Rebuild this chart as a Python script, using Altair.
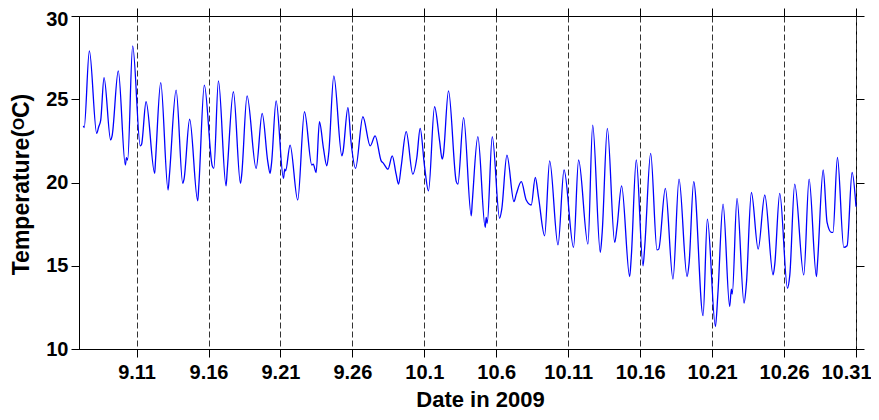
import altair as alt
import pandas as pd

# Day number counted from Aug 31, 2009 (so 11 = Sep 11, 31 = Oct 1, 61 = Oct 31)
days = [
    7.30, 7.36, 7.72, 8.23, 8.37, 8.51, 8.74, 9.20, 9.30, 9.73,
    10.22, 10.30, 10.38, 10.73, 11.26, 11.35, 11.66, 12.26, 12.32, 12.68,
    13.19, 13.28, 13.75, 14.21, 14.30, 14.69, 15.25, 15.33, 15.71, 16.26,
    16.37, 16.69, 17.22, 17.30, 17.73, 18.22, 18.30, 18.68, 19.31, 19.73,
    20.12, 20.28, 20.38, 20.70, 21.21, 21.30, 21.36, 21.67, 22.20, 22.67,
    23.18, 23.28, 23.48, 23.71, 23.99, 24.22, 24.36, 24.71, 25.27, 25.34,
    25.69, 25.91, 26.22, 26.73, 27.24, 27.58, 28.00, 28.16, 28.47, 28.77,
    29.04, 29.21, 29.39, 29.74, 30.20, 30.48, 30.71, 31.01, 31.29, 31.71,
    32.06, 32.24, 32.31, 32.68, 33.22, 33.33, 33.73, 34.26, 34.33, 34.72,
    35.23, 35.30, 35.37, 35.72, 36.23, 36.38, 36.74, 37.23, 37.39, 37.74,
    38.08, 38.43, 38.71, 38.94, 39.36, 39.71, 40.29, 40.71, 41.37, 41.72,
    42.37, 42.70, 43.23, 43.36, 43.72, 44.23, 44.39, 44.71, 45.27, 45.38,
    45.73, 46.20, 46.32, 46.73, 47.17, 47.29, 47.75, 48.28, 48.70, 49.26,
    49.40, 49.72, 50.37, 50.67, 51.23, 51.40, 51.76, 52.22, 52.34, 52.40,
    52.73, 53.22, 53.38, 53.73, 54.20, 54.66, 55.24, 55.35, 55.70, 56.24,
    56.40, 56.74, 57.37, 57.74, 58.25, 58.32, 58.72, 58.99, 59.29, 59.40,
    59.71, 60.15, 60.38, 60.73, 61.00,
]
temps = [
    23.4, 23.3, 27.9, 22.95, 23.35, 23.75, 26.3, 22.55, 22.8, 26.7,
    21.05, 21.5, 21.35, 28.2, 22.2, 22.3, 24.85, 20.55, 21.35, 26.0,
    19.55, 20.4, 25.55, 19.95, 20.2, 23.8, 18.9, 19.85, 25.85, 21.0,
    20.85, 26.1, 19.8, 20.7, 25.45, 19.95, 20.4, 25.2, 20.85, 24.15,
    21.25, 20.55, 21.15, 24.9, 20.25, 20.8, 20.7, 22.25, 18.95, 24.25,
    21.05, 21.1, 20.6, 23.65, 22.05, 21.0, 21.8, 26.4, 21.6, 21.8,
    24.5, 22.4, 20.85, 23.95, 22.2, 22.8, 21.3, 21.15, 20.8, 21.6,
    20.5, 19.9, 20.95, 23.05, 20.5, 21.5, 23.25, 21.0, 19.5, 24.55,
    22.5, 21.4, 21.6, 25.5, 20.05, 19.9, 23.9, 18.0, 18.8, 22.75,
    17.3, 17.9, 17.55, 22.75, 17.85, 18.4, 21.65, 18.85, 19.3, 20.05,
    18.95, 18.65, 20.3, 19.1, 16.8, 21.3, 16.25, 20.75, 16.1, 21.35,
    16.3, 23.45, 15.8, 17.0, 23.25, 16.4, 17.3, 19.8, 14.35, 15.5,
    21.35, 15.0, 16.2, 21.75, 15.95, 16.0, 19.65, 14.2, 20.2, 14.35,
    15.15, 20.05, 12.0, 17.8, 11.35, 13.3, 18.7, 12.55, 13.6, 13.3,
    19.05, 12.75, 13.9, 19.4, 16.0, 19.25, 14.45, 15.05, 19.35, 13.65,
    14.45, 19.9, 14.45, 20.2, 14.35, 15.1, 20.75, 17.6, 17.0, 17.0,
    21.5, 16.1, 16.2, 20.6, 18.55,
]

tick_days = [11, 16, 21, 26, 31, 36, 41, 46, 51, 56, 61]
tick_labels = ["9.11", "9.16", "9.21", "9.26", "10.1", "10.6",
               "10.11", "10.16", "10.21", "10.26", "10.31"]
y_ticks = [10, 15, 20, 25, 30]

df = pd.DataFrame({"day": days, "temp": temps})

label_expr = ("[" + ",".join("'%s'" % s for s in tick_labels) + "]"
              "[round((datum.value-%d)/5)]" % tick_days[0])

FONT = "Liberation Sans"
x_scale = alt.Scale(domain=[7, 61], nice=False, zero=False)
y_scale = alt.Scale(domain=[10, 30], nice=False, zero=False)

line = alt.Chart(df).mark_line(
    color="#0000ff", strokeWidth=1.3, interpolate="monotone"
).encode(
    x=alt.X("day:Q", scale=x_scale, axis=alt.Axis(
        values=tick_days, labelExpr=label_expr, title="Date in 2009",
        grid=True, gridDash=[6, 3], gridColor="#333333", gridWidth=1,
        tickSize=8, tickColor="black", domainColor="black",
        labelFont=FONT, labelFontSize=20, labelFontWeight="bold",
        labelColor="black", labelPadding=5, labelFlush=False,
        labelOffset={"condition": {"test": "datum.value == %d" % tick_days[-1],
                                   "value": -10}, "value": 0},
        titleFont=FONT, titleFontSize=22, titleFontWeight="bold",
        titleColor="black", titleX=401, titleY=57, titleBaseline="alphabetic",
        titleAlign="center",
    )),
    y=alt.Y("temp:Q", scale=y_scale, axis=alt.Axis(
        values=y_ticks, title="Temperature(\u1d3cC)", grid=False,
        tickSize=8, tickColor="black", domainColor="black",
        labelFont=FONT, labelFontSize=20, labelFontWeight="bold",
        labelColor="black", labelPadding=3, labelFlush=False,
        labelOffset={"condition": {"test": "datum.value == %d" % y_ticks[-1],
                                   "value": 3}, "value": 0},
        titleFont=FONT, titleFontSize=23, titleFontWeight="bold",
        titleColor="black", titleX=-51, titleY=168, titleAngle=270,
        titleBaseline="alphabetic", titleAlign="center",
    )),
)

mirror = alt.Chart(df).mark_line(opacity=0).encode(
    x=alt.X("day:Q", scale=x_scale, axis=alt.Axis(
        orient="top", values=tick_days, labels=False, title="",
        grid=False, tickSize=8, tickColor="black", domain=False,
    )),
    y=alt.Y("temp:Q", scale=y_scale, axis=alt.Axis(
        orient="right", values=y_ticks, labels=False, title="",
        grid=False, tickSize=8, tickColor="black", domain=False,
    )),
)

chart = alt.layer(line, mirror).resolve_axis(
    x="independent", y="independent"
).properties(
    width=777, height=333,
    autosize=alt.AutoSizeParams(type="none"),
    padding={"left": 71, "top": 8, "right": 15, "bottom": 63},
    background="white",
).configure_view(stroke="black", strokeWidth=1)

chart.save("out.html", embed_options={"renderer": "svg", "actions": False})
